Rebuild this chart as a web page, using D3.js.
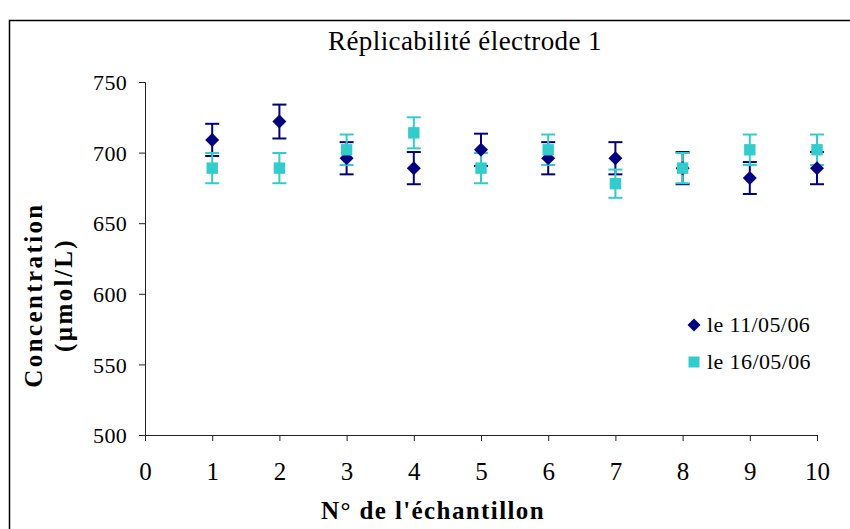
<!DOCTYPE html>
<html><head><meta charset="utf-8">
<script src="https://cdn.jsdelivr.net/npm/d3@7"></script>
<style>body{margin:0;background:#fff}text{font-family:"Liberation Serif","Times New Roman",serif}</style>
</head><body>
<script>
const samples = [1,2,3,4,5,6,7,8,9,10];
const series1 = [709, 722, 696, 689, 702, 696, 696, 689, 682, 689];
const err1 = [11.4, 12, 11.4, 11.4, 11.4, 11.4, 11.4, 11.4, 11.3, 11.4];
const series2 = [689, 689, 702, 714, 689, 702, 678, 689, 702, 702];
const err2 = [10.7, 10.7, 10.8, 11, 10.7, 10.8, 10, 10.7, 10.8, 10.8];
const xTicks = [0,1,2,3,4,5,6,7,8,9,10];
const yTicks = [500,550,600,650,700,750];
const seriesNames = ["le 11/05/06","le 16/05/06"];

const W=850,H=529;
const svg=d3.select("body").append("svg").attr("width",W).attr("height",H);
svg.append("rect").attr("x",9.5).attr("y",20.5).attr("width",850).attr("height",520)
  .attr("fill","#fff").attr("stroke","#000").attr("stroke-width",1.5);

const x=d3.scaleLinear().domain([0,10]).range([145,817]);
const y=d3.scaleLinear().domain([500,750]).range([435,82]);

// Title
svg.append("text").attr("x",465).attr("y",50).attr("text-anchor","middle")
  .attr("font-size",27).attr("letter-spacing",0.4).text("Réplicabilité électrode 1");

// Y axis
const ya=svg.append("g").attr("transform","translate(145,0)")
  .call(d3.axisLeft(y).tickValues(yTicks).tickSize(6).tickPadding(12));
ya.selectAll("path,line").attr("stroke","#222");
ya.selectAll("text").attr("font-size",22).attr("fill","#000").attr("letter-spacing",0.3)
  .attr("font-family","Liberation Serif").attr("dy","0.35em");
// X axis
const xa=svg.append("g").attr("transform","translate(0,435)")
  .call(d3.axisBottom(x).tickValues(xTicks).tickSize(6).tickPadding(0));
xa.selectAll("path,line").attr("stroke","#222");
xa.selectAll("text").attr("font-size",25).attr("fill","#000").attr("font-family","Liberation Serif")
  .attr("y",45).attr("dy",0);

// Axis titles
svg.append("text").attr("x",433).attr("y",519).attr("text-anchor","middle")
  .attr("font-size",25).attr("font-weight","bold").attr("letter-spacing",1.4).text("N° de l'échantillon");
const yt=svg.append("g").attr("transform","translate(42,295) rotate(-90)");
yt.append("text").attr("text-anchor","middle").attr("font-size",25).attr("font-weight","bold").attr("letter-spacing",2.4).text("Concentration");
yt.append("text").attr("text-anchor","middle").attr("y",30).attr("font-size",25).attr("font-weight","bold").attr("letter-spacing",2.4).text("(µmol/L)");

const colors=["#000080","#33CCCC"];
const data=[series1.map((v,i)=>({x:samples[i],v,e:err1[i]})), series2.map((v,i)=>({x:samples[i],v,e:err2[i]}))];

const diamond=r=>`M0,${-r}L${r},0L0,${r}L${-r},0Z`;
const square=h=>`M${-h},${-h}H${h}V${h}H${-h}Z`;

data.forEach((s,k)=>{
  const g=svg.append("g");
  const c=colors[k];
  s.forEach(d=>{
    const cx=x(d.x);
    g.append("line").attr("x1",cx).attr("x2",cx).attr("y1",y(d.v+d.e)).attr("y2",y(d.v-d.e)).attr("stroke",c).attr("stroke-width",2);
    [d.v+d.e,d.v-d.e].forEach(t=>g.append("line").attr("x1",cx-7).attr("x2",cx+7).attr("y1",y(t)).attr("y2",y(t)).attr("stroke",c).attr("stroke-width",2));
  });
});
data.forEach((s,k)=>{
  const c=colors[k];
  svg.append("g").selectAll("path").data(s).join("path")
    .attr("transform",d=>`translate(${x(d.x)},${y(d.v)})`).attr("d",k===0?diamond(7):square(5.7))
    .attr("fill",c);
});

// Legend
seriesNames.forEach((n,k)=>{
  const ly=325+k*37;
  svg.append("path").attr("transform",`translate(694,${ly})`)
    .attr("d",k===0?diamond(6.5):square(5.5)).attr("fill",colors[k]);
  svg.append("text").attr("x",707).attr("y",ly+7).attr("font-size",22).attr("letter-spacing",0.4).text(n);
});
</script>
</body></html>
